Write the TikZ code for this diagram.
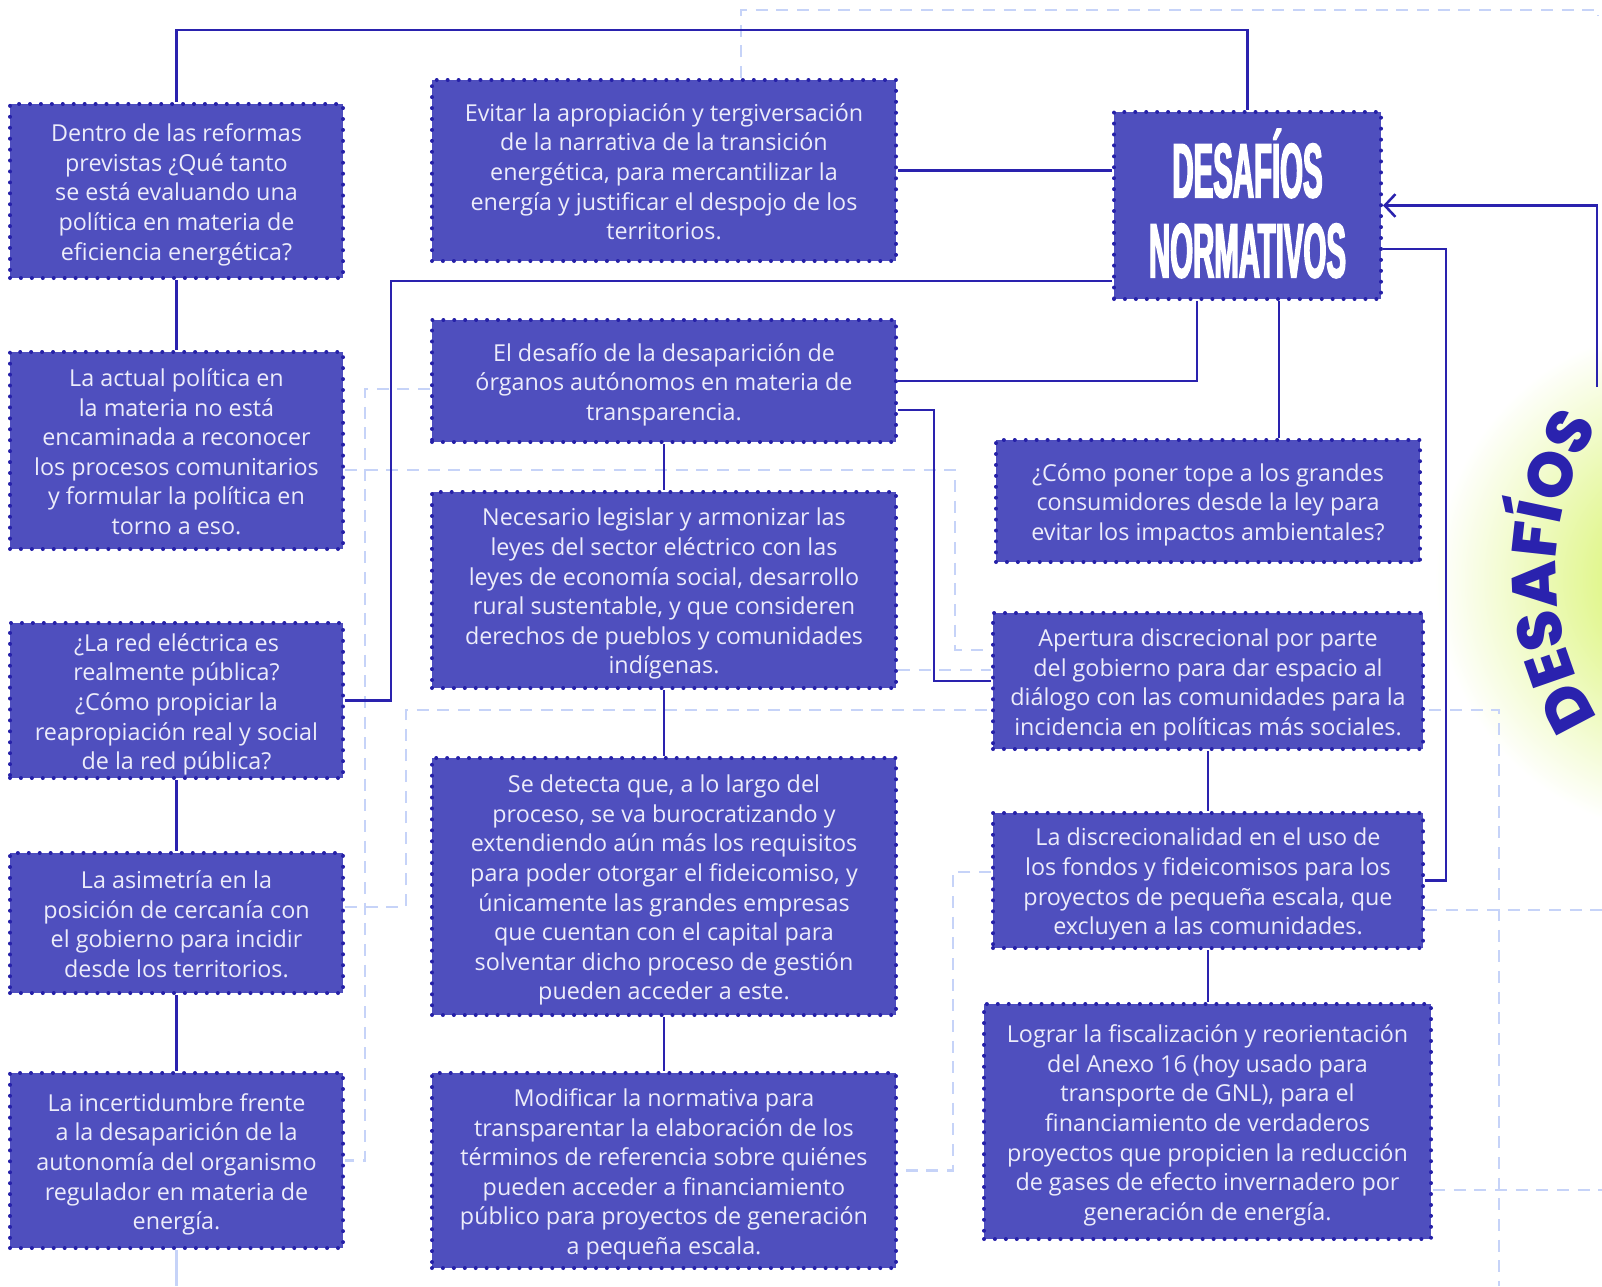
\documentclass[tikz,border=0pt]{standalone}
\usepackage{fontspec}
\setmainfont{Open Sans}
\newfontfamily\titlefont{Liberation Sans}[FakeStretch=0.38,BoldFeatures={FakeBold=1.8}]
\IfFontExistsTF{Poppins ExtraBold}
  {\newfontfamily\desfont{Poppins ExtraBold}}
  {\newfontfamily\desfont{Poppins}[FakeBold=2.5]}
\usetikzlibrary{arrows.meta,decorations.text}
\definecolor{boxfill}{HTML}{4F4FBE}
\definecolor{dotblue}{HTML}{2520A8}
\definecolor{lineblue}{HTML}{2A22AE}
\definecolor{dashblue}{HTML}{C6D3F8}
\definecolor{txtc}{HTML}{ECECFA}
\definecolor{blobgreen}{HTML}{D2F255}
\pgfdeclarelayer{blob}
\pgfdeclarelayer{bg}
\pgfsetlayers{blob,bg,main}
\tikzset{
  box/.style={fill=boxfill, draw=dotblue, line width=3pt, dash pattern=on 0pt off 8.2pt,
    line cap=round, inner sep=0pt},
  btxt/.style={text=txtc, align=center, inner sep=0pt,
    font=\fontsize{17.5}{22.2}\selectfont,
    execute at end node={\rule[-4.5pt]{0pt}{0pt}}},
  titletxt/.style={text=white, align=center, inner sep=0pt,
    font=\titlefont\bfseries\fontsize{58}{60}\selectfont},
  link/.style={draw=lineblue, line width=1.9pt, solid},
  dlink/.style={draw=dashblue, line width=2pt, dash pattern=on 9pt off 6.5pt},
}
% name, x, y, width, height, text
\newcommand\drawbox[6]{%
  \node[box, minimum width=#4, minimum height=#5] (#1) at (#2,#3) {};
  \node[btxt] (#1t) at ([yshift=-3pt]#1.center) {#6};}
\begin{document}
\begin{tikzpicture}[x=0.75pt,y=-0.75pt]
\useasboundingbox (0,0) rectangle (1602,1286);

% left column
\drawbox{L1}{176.5}{191}{249.75pt}{130.5pt}
  {Dentro de las reformas\\previstas ¿Qué tanto\\se está evaluando una\\política en materia de\\eficiencia energética?}
\drawbox{L2}{176.5}{450.5}{249.75pt}{147.75pt}
  {La actual política en\\la materia no está\\encaminada a reconocer\\los procesos comunitarios\\y formular la política en\\torno a eso.}
\drawbox{L3}{176.5}{700.5}{249.75pt}{116.25pt}
  {¿La red eléctrica es\\realmente pública?\\¿Cómo propiciar la\\reapropiación real y social\\de la red pública?}
\drawbox{L4}{176.5}{923}{249.75pt}{105pt}
  {La asimetría en la\\posición de cercanía con\\el gobierno para incidir\\desde los territorios.}
\drawbox{L5}{176.5}{1160.5}{249.75pt}{131.25pt}
  {La incertidumbre frente\\a la desaparición de la\\autonomía del organismo\\regulador en materia de\\energía.}

% middle column
\drawbox{M1}{664}{170.5}{348pt}{135.75pt}
  {Evitar la apropiación y tergiversación\\de la narrativa de la transición\\energética, para mercantilizar la\\energía y justificar el despojo de los\\territorios.}
\drawbox{M2}{664}{381}{348pt}{91.5pt}
  {El desafío de la desaparición de\\órganos autónomos en materia de\\transparencia.}
\drawbox{M3}{664}{590}{348pt}{147pt}
  {Necesario legislar y armonizar las\\leyes del sector eléctrico con las\\leyes de economía social, desarrollo\\rural sustentable, y que consideren\\derechos de pueblos y comunidades\\indígenas.}
\drawbox{M4}{664}{886.5}{348pt}{192.75pt}
  {Se detecta que, a lo largo del\\proceso, se va burocratizando y\\extendiendo aún más los requisitos\\para poder otorgar el fideicomiso, y\\únicamente las grandes empresas\\que cuentan con el capital para\\solventar dicho proceso de gestión\\pueden acceder a este.}
\drawbox{M5}{664}{1170.5}{348pt}{146.25pt}
  {Modificar la normativa para\\transparentar la elaboración de los\\términos de referencia sobre quiénes\\pueden acceder a financiamiento\\público para proyectos de generación\\a pequeña escala.}

% right column
\node[box, minimum width=200.25pt, minimum height=140.25pt] (T) at (1247.5,205.5) {};
\node[titletxt] (Tt) at ([yshift=1.5pt]T.center) {DESAFÍOS\\NORMATIVOS};
\drawbox{R1}{1208}{501}{318pt}{91.5pt}
  {¿Cómo poner tope a los grandes\\consumidores desde la ley para\\evitar los impactos ambientales?}
\drawbox{R2}{1208}{681}{322.5pt}{102pt}
  {Apertura discrecional por parte\\del gobierno para dar espacio al\\diálogo con las comunidades para la\\incidencia en políticas más sociales.}
\drawbox{R3}{1208}{880.5}{322.5pt}{101.25pt}
  {La discrecionalidad en el uso de\\los fondos y fideicomisos para los\\proyectos de pequeña escala, que\\excluyen a las comunidades.}
\drawbox{R4}{1207.5}{1121.5}{335.25pt}{176.25pt}
  {Lograr la fiscalización y reorientación\\del Anexo 16 (hoy usado para\\transporte de GNL), para el\\financiamiento de verdaderos\\proyectos que propicien la reducción\\de gases de efecto invernadero por\\generación de energía.}

% helper coordinates
\coordinate (topy) at (0,30);
\coordinate (k1) at (391,281);
\coordinate (k2) at (1197,0);
\coordinate (k3) at (1279,0);
\coordinate (k4) at (934,410);
\coordinate (k6) at (1446,249);
\coordinate (k8) at (1597,387);
\coordinate (bot) at (0,1286);
\coordinate (d1) at (741,10);
\coordinate (d1e) at (1598,10);
\coordinate (d1f) at (1598,16);
\coordinate (d2) at (955,470);
\coordinate (d3) at (955,650);
\coordinate (d4) at (365,389);
\coordinate (d6) at (406,907);
\coordinate (d7) at (406,710);
\coordinate (d8) at (1499,710);
\coordinate (d9) at (1499,1286);
\coordinate (d10) at (0,670);
\coordinate (d11) at (953,872);
\coordinate (d12) at (1602,910);
\coordinate (d13) at (1602,1190);

\begin{pgfonlayer}{blob}
  \shade[inner color=blobgreen, outer color=white] (1690,580) circle (255);
\end{pgfonlayer}

\begin{pgfonlayer}{bg}
  % dashed light connectors
  \draw[dlink] (M1.north -| d1) -- (d1) -- (d1e) -- (d1f);
  \draw[dlink] (L2.east |- d2) -- (d2) -- (d3) -- (R2.west |- d3);
  \draw[dlink] (M2.west |- d4) -- (d4) |- (L5.east);
  \draw[dlink] (L4.east |- d6) -- (d6) -- (d7) -- (d8) -- (d9);
  \draw[dlink] (M3.east |- d10) -- (R2.west |- d10);
  \draw[dlink] (R3.west |- d11) -- (d11) |- (M5.east);
  \draw[dlink] (R3.east |- d12) -- (d12);
  \draw[dlink] (R4.east |- d13) -- (d13);
  \draw[draw=dashblue, line width=2pt] (L5.south) -- (L5.south |- bot);
  % solid connectors
  \draw[link] (L1.north) |- (T.north |- topy) -- (T.north);
  \draw[link] (M1.east) -- (T.west |- M1.east);
  \draw[link] (L1.south) -- (L2.north);
  \draw[link] (T.west |- k1) -- (k1) |- (L3.east);
  \draw[link] (T.south -| k2) |- (M2.east);
  \draw[link] (T.south -| k3) -- (R1.north -| k3);
  \draw[link] (M2.east |- k4) -- (k4) |- (R2.west);
  \draw[link] (M2.south) -- (M3.north);
  \draw[link] (M3.south) -- (M4.north);
  \draw[link] (M4.south) -- (M5.north);
  \draw[link] (L3.south) -- (L4.north);
  \draw[link] (L4.south) -- (L5.north);
  \draw[link] (R2.south) -- (R3.north);
  \draw[link] (R3.south) -- (R3.south |- R4.north);
  \draw[link] (T.east |- k6) -- (k6) |- (R3.east);
\end{pgfonlayer}

\draw[link, -{Straight Barb[length=8pt,width=17pt,line width=1.9pt]}] (k8) |- (T.east);

% curved side title
\path[decorate, decoration={text along path,
    text={|\desfont\fontsize{47}{47}\selectfont|DESAFÍOS},
    text color=lineblue, text align=center}]
  (1828,572) ++(145:272) arc[start angle=145, end angle=215, radius=272];
\end{tikzpicture}
\end{document}
